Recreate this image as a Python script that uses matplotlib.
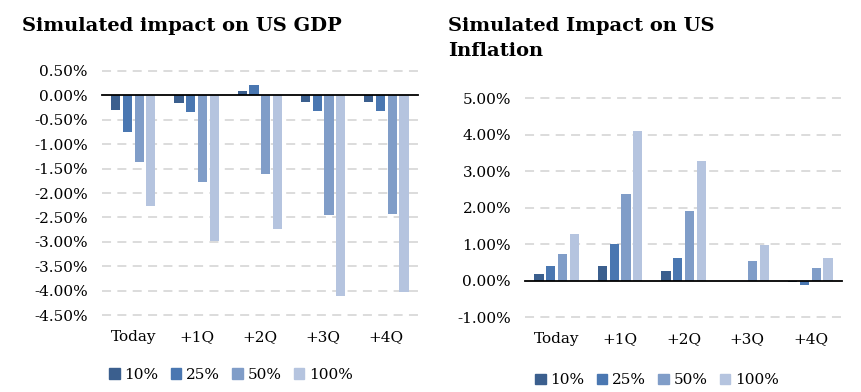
import numpy as np
import matplotlib
matplotlib.use("Agg")
import matplotlib.pyplot as plt
from matplotlib.patches import Patch

categories = ['Today', '+1Q', '+2Q', '+3Q', '+4Q']
series_names = ['10%', '25%', '50%', '100%']

# values in percent
gdp_10 = [-0.30, -0.15, 0.09, -0.14, -0.13]
gdp_25 = [-0.75, -0.35, 0.22, -0.31, -0.31]
gdp_50 = [-1.36, -1.77, -1.62, -2.45, -2.42]
gdp_100 = [-2.27, -2.98, -2.73, -4.11, -4.02]

inf_10 = [0.18, 0.41, 0.26, 0.0, -0.03]
inf_25 = [0.41, 1.00, 0.62, 0.0, -0.13]
inf_50 = [0.74, 2.39, 1.91, 0.55, 0.36]
inf_100 = [1.28, 4.11, 3.27, 0.98, 0.63]

gdp_ticks = [0.5, 0.0, -0.5, -1.0, -1.5, -2.0, -2.5, -3.0, -3.5, -4.0, -4.5]
inf_ticks = [5.0, 4.0, 3.0, 2.0, 1.0, 0.0, -1.0]

colors = ['#3b5f8e', '#4a77b1', '#809dc8', '#b5c4df']
serif = 'DejaVu Serif'

fig = plt.figure(figsize=(8.62, 3.92), dpi=100)


def draw(ax, data, ticks, ylim):
    x = np.arange(len(categories))
    step = 0.185
    for i, vals in enumerate(data):
        ax.bar(x + (i - 1.5) * step, vals, width=0.145, color=colors[i],
               edgecolor='none', zorder=3)
    for t in ticks:
        if t == 0:
            continue
        ax.axhline(t, color='#d9d9d9', lw=1.3, dashes=(5, 3.5), zorder=1,
                   clip_on=False)
    ax.axhline(0, color='black', lw=1.3, zorder=4, clip_on=False)
    ax.set_xlim(-0.5, len(categories) - 0.5)
    ax.set_ylim(*ylim)
    ax.set_yticks(ticks)
    ax.set_yticklabels(['%.2f%%' % t for t in ticks], family=serif,
                       fontsize=11)
    ax.set_xticks(x)
    ax.set_xticklabels(categories, family=serif, fontsize=11)
    ax.tick_params(length=0, pad=11)
    ax.tick_params(axis='y', pad=10)
    for s in ax.spines.values():
        s.set_visible(False)


ax1 = fig.add_axes([0.118, 0.196, 0.367, 0.623])
draw(ax1, [gdp_10, gdp_25, gdp_50, gdp_100], gdp_ticks, (-4.5, 0.5))

ax2 = fig.add_axes([0.609, 0.191, 0.368, 0.558])
draw(ax2, [inf_10, inf_25, inf_50, inf_100], inf_ticks, (-1.0, 5.0))

fig.text(0.025, 0.922, 'Simulated impact on US GDP', family=serif,
         fontweight='bold', fontsize=14, va='baseline')
fig.text(0.52, 0.922, 'Simulated Impact on US', family=serif,
         fontweight='bold', fontsize=14, va='baseline')
fig.text(0.52, 0.858, 'Inflation', family=serif,
         fontweight='bold', fontsize=14, va='baseline')

handles = [Patch(color=c, label=n) for c, n in zip(colors, series_names)]
for cx, cy in [(0.268, 0.043), (0.762, 0.03)]:
    fig.legend(handles=handles, loc='center', bbox_to_anchor=(cx, cy),
               ncol=4, frameon=False, prop={'family': serif, 'size': 11},
               handlelength=0.7, handleheight=0.7, handletextpad=0.3,
               columnspacing=0.8)

fig.savefig('out.png', dpi=100)
